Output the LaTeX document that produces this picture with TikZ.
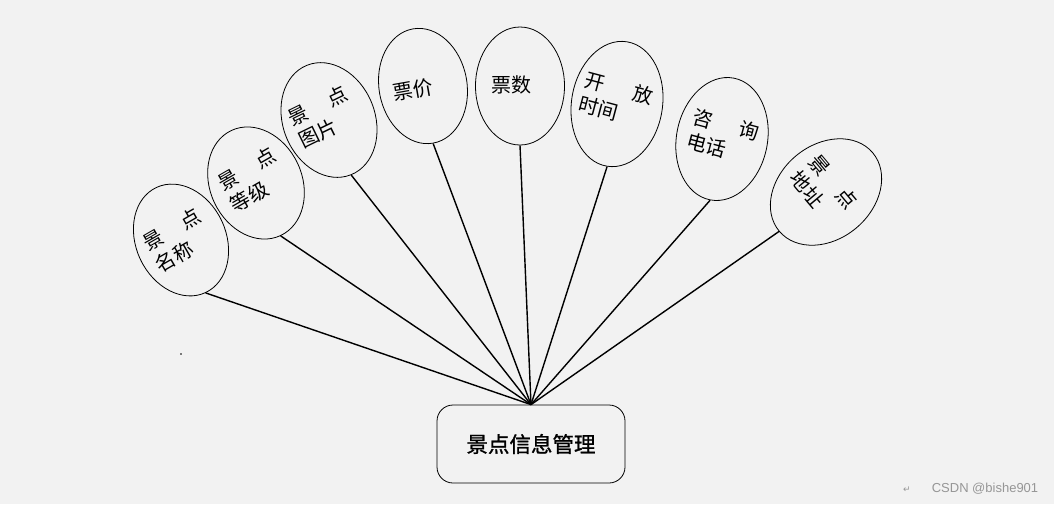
\documentclass[tikz,border=0pt]{standalone}
\usepackage{fontspec}
\newfontfamily\cjk{Noto Sans CJK SC}
\newfontfamily\cjkb{Noto Sans CJK SC}[FakeBold=1.2]
\newfontfamily\wm{Liberation Sans}
\newfontfamily\dv{DejaVu Sans}
\usetikzlibrary{shapes.geometric}
\definecolor{bgc}{RGB}{242,242,242}
\definecolor{wmc}{RGB}{150,150,150}
\tikzset{
  attr/.style={draw, ellipse, line width=0.8pt, inner sep=0pt},
  lbl/.style={font=\cjk\fontsize{20}{25}\selectfont, align=left, inner sep=0pt},
  conn/.style={line width=1.4pt},
  mainbox/.style={draw, line width=0.8pt, rounded corners=16pt, minimum width=188, minimum height=78, font=\cjkb\fontsize{21.5}{24}\selectfont, inner sep=0pt}
}
\begin{document}
\begin{tikzpicture}[x=1pt,y=-1pt]
\useasboundingbox (0,0) rectangle (1054,504);
\fill[bgc] (0,0) rectangle (1054,504);

\node[attr, minimum width=90, minimum height=116, rotate=25] (e1) at (181,240) {};
\node[attr, minimum width=92, minimum height=116, rotate=25] (e2) at (256,183) {};
\node[attr, minimum width=92, minimum height=118, rotate=22] (e3) at (329,120) {};
\node[attr, minimum width=88, minimum height=116, rotate=10] (e4) at (423,86) {};
\node[attr, minimum width=89, minimum height=118, rotate=0] (e5) at (520,86) {};
\node[attr, minimum width=91, minimum height=126, rotate=-9] (e6) at (617,104) {};
\node[attr, minimum width=91, minimum height=124, rotate=-11] (e7) at (722,139) {};
\node[attr, minimum width=94, minimum height=122, rotate=-50] (e8) at (826,192) {};

\node[lbl, rotate=30] (t1) at (178,240) {景\hspace{23pt}点\\名称};
\node[lbl, rotate=30] (t2) at (253,180) {景\hspace{23pt}点\\等级};
\node[lbl, rotate=26] (t3) at (323,117) {景\hspace{23pt}点\\图片};
\node[lbl, rotate=10] (t4) at (413,90) {票价};
\node[lbl, rotate=0] (t5) at (511,85) {票数};
\node[lbl, rotate=-15] (t6) at (616,100) {开\hspace{29pt}放\\时间};
\node[lbl, rotate=-15] (t7) at (723,137) {咨\hspace{27pt}询\\电话};
\node[lbl, rotate=-50] (t8) at (824,190) {景\hspace{23pt}点\\地址};

\node[mainbox] (m) at (531,444) {景点信息管理};

\foreach \e in {e1,e2,e3,e4,e5,e6,e7,e8}
  \draw[conn] (\e.south) -- (m.north);

\fill (181,354) circle (0.9);

\node[font=\dv\fontsize{9}{10}\selectfont, text=wmc, inner sep=0pt] (w1) at (907,490) {↵};
\node[font=\wm\fontsize{13}{15}\selectfont, text=wmc, inner sep=0pt] (w2) at (985,489) {CSDN @bishe901};
\end{tikzpicture}
\end{document}
